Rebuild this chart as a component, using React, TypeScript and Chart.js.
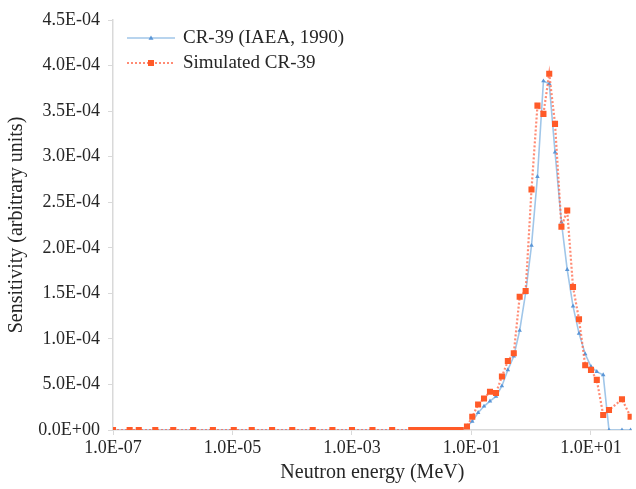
import React, { useEffect, useRef } from "react";
import { Chart, registerables } from "chart.js";

Chart.register(...registerables);

// Neutron energies (MeV)
const lowEnergies = [
  1e-7, 1.9e-7, 2.7e-7, 5.1e-7, 1.02e-6, 2.2e-6, 4.7e-6, 1.05e-5, 2.1e-5, 4.6e-5,
  1e-4, 2.2e-4, 4.7e-4, 1e-3, 2.2e-3, 4.7e-3,
  0.0098, 0.0118, 0.0143, 0.0173, 0.0209, 0.0253, 0.0306, 0.037, 0.045, 0.054, 0.066,
];
const lowValues = [
  0, 0, 0, 0, 0, 0, 0, 0, 0, 0,
  0, 0, 0, 0, 0, 0,
  0, 0, 0, 0, 0, 0, 0, 0, 0, 0, 0,
];
const highEnergies = [
  0.084, 0.103, 0.129, 0.162, 0.204, 0.257, 0.323, 0.406, 0.51, 0.64, 0.806,
  1.01, 1.27, 1.6, 2.0, 2.5, 3.2, 4.0, 5.0, 6.3, 8.0, 10, 12.5, 16, 20, 33, 46,
];
const iaeaValues = [
  3.6e-6, 9.5e-6, 1.9e-5, 2.6e-5, 3.16e-5, 3.68e-5, 4.83e-5, 6.6e-5, 8.1e-5, 1.092e-4, 1.504e-4,
  2.025e-4, 2.78e-4, 3.83e-4, 3.8e-4, 3.05e-4, 2.28e-4, 1.76e-4, 1.36e-4, 1.06e-4, 8.34e-5,
  6.95e-5, 6.4e-5, 6.04e-5, 0, 0, 0,
];
const simulatedValues = [
  3.8e-6, 1.46e-5, 2.8e-5, 3.46e-5, 4.2e-5, 4.06e-5, 5.87e-5, 7.57e-5, 8.42e-5, 1.463e-4, 1.526e-4,
  2.64e-4, 3.56e-4, 3.47e-4, 3.91e-4, 3.36e-4, 2.23e-4, 2.41e-4, 1.57e-4, 1.215e-4, 7.1e-5,
  6.6e-5, 5.5e-5, 1.65e-5, 2.2e-5, 3.37e-5, 1.46e-5,
];

const seriesLabels = ["CR-39 (IAEA, 1990)", "Simulated CR-39"];

const xTickValues = [1e-7, 1e-5, 1e-3, 1e-1, 1e1];
const xTickLabels = ["1.0E-07", "1.0E-05", "1.0E-03", "1.0E-01", "1.0E+01"];
const yTickValues = [0, 5e-5, 1e-4, 1.5e-4, 2e-4, 2.5e-4, 3e-4, 3.5e-4, 4e-4, 4.5e-4];
const yTickLabels = [
  "0.0E+00", "5.0E-04", "1.0E-04", "1.5E-04", "2.0E-04",
  "2.5E-04", "3.0E-04", "3.5E-04", "4.0E-04", "4.5E-04",
];

const FONT = '"Liberation Serif", "Times New Roman", serif';
const TEXT = "#262626";
const AXIS = "#d9d9d9";
const BLUE_LINE = "rgb(160,198,233)";
const BLUE_PT = "rgb(90,150,215)";
const RED_LINE = "rgba(255,100,70,0.75)";
const RED_PT = "rgb(255,90,40)";

function toPoints(xs: number[], ys: number[]) {
  return xs.map((x, i) => ({ x, y: ys[i] }));
}

const legendPlugin = {
  id: "customLegend",
  afterDraw(chart: any) {
    const ctx = chart.ctx;
    const styles = [
      { line: BLUE_LINE, pt: BLUE_PT, dash: [] as number[], width: 1.6, shape: "tri" },
      { line: RED_LINE, pt: RED_PT, dash: [2, 2], width: 2.2, shape: "rect" },
    ];
    seriesLabels.forEach((label, i) => {
      const y = 38 + i * 25;
      const s = styles[i];
      ctx.save();
      ctx.strokeStyle = s.line;
      ctx.lineWidth = s.width;
      ctx.setLineDash(s.dash);
      ctx.beginPath();
      ctx.moveTo(127, y);
      ctx.lineTo(175, y);
      ctx.stroke();
      ctx.setLineDash([]);
      ctx.fillStyle = s.pt;
      if (s.shape === "tri") {
        ctx.beginPath();
        ctx.moveTo(151, y - 2.5);
        ctx.lineTo(153.5, y + 1.8);
        ctx.lineTo(148.5, y + 1.8);
        ctx.closePath();
        ctx.fill();
      } else {
        ctx.fillRect(148, y - 3, 6, 6);
      }
      ctx.fillStyle = TEXT;
      ctx.font = `19px ${FONT}`;
      ctx.textBaseline = "middle";
      ctx.textAlign = "left";
      ctx.fillText(label, 183, y);
      ctx.restore();
    });
  },
};

export default function App() {
  const ref = useRef<HTMLCanvasElement | null>(null);
  useEffect(() => {
    document.body.style.margin = "0";
    const canvas = ref.current!;
    const chart = new Chart(canvas, {
      type: "line",
      data: {
        datasets: [
          {
            label: seriesLabels[0],
            data: toPoints(lowEnergies.concat(highEnergies), lowValues.concat(iaeaValues)),
            borderColor: BLUE_LINE,
            backgroundColor: BLUE_PT,
            borderWidth: 1.6,
            pointStyle: "triangle",
            pointRadius: 2.6,
            pointBorderWidth: 0,
            pointBackgroundColor: BLUE_PT,
            order: 1,
            tension: 0,
          },
          {
            label: seriesLabels[1],
            data: toPoints(lowEnergies.concat(highEnergies), lowValues.concat(simulatedValues)),
            borderColor: RED_LINE,
            backgroundColor: RED_PT,
            borderWidth: 2.2,
            borderDash: [2, 2],
            pointStyle: "rect",
            pointRadius: 4.3,
            pointBorderWidth: 0,
            pointBackgroundColor: RED_PT,
            order: 0,
            tension: 0,
          },
        ],
      },
      options: {
        animation: false,
        responsive: false,
        layout: { padding: { top: 20, right: 0, left: 0, bottom: 0 } },
        plugins: { legend: { display: false }, tooltip: { enabled: false } },
        scales: {
          x: {
            type: "logarithmic",
            min: 1e-7,
            max: 48,
            afterBuildTicks: (s: any) => {
              s.ticks = xTickValues.map((v) => ({ value: v }));
            },
            afterFit: (s: any) => {
              s.height = 59;
            },
            grid: { drawOnChartArea: false, drawTicks: true, tickLength: 5, color: AXIS },
            border: { color: AXIS, width: 1.5 },
            ticks: {
              autoSkip: false,
              maxRotation: 0,
              padding: 2,
              color: TEXT,
              font: { family: FONT, size: 18 },
              callback: (v: any) => {
                const idx = xTickValues.findIndex((t) => Math.abs(Math.log10(t) - Math.log10(Number(v))) < 1e-6);
                return idx >= 0 ? xTickLabels[idx] : "";
              },
            },
            title: {
              display: true,
              text: "Neutron energy (MeV)",
              color: TEXT,
              font: { family: FONT, size: 20 },
              padding: { top: 4, bottom: 4 },
            },
          },
          y: {
            min: 0,
            max: 4.5e-4,
            afterBuildTicks: (s: any) => {
              s.ticks = yTickValues.map((v) => ({ value: v }));
            },
            afterFit: (s: any) => {
              s.width = 113;
            },
            grid: { drawOnChartArea: false, drawTicks: true, tickLength: 5, color: AXIS },
            border: { color: AXIS, width: 1.5 },
            ticks: {
              padding: 8,
              color: TEXT,
              font: { family: FONT, size: 18 },
              callback: (v: any) => {
                const idx = yTickValues.findIndex((t) => Math.abs(t - Number(v)) < 1e-9);
                return idx >= 0 ? yTickLabels[idx] : "";
              },
            },
            title: {
              display: true,
              text: "Sensitivity (arbitrary units)",
              color: TEXT,
              font: { family: FONT, size: 20 },
              padding: { top: 5, bottom: 4 },
            },
          },
        },
      },
      plugins: [legendPlugin],
    });
    return () => chart.destroy();
  }, []);
  return (
    <div style={{ width: 636, height: 489 }}>
      <canvas ref={ref} width={636} height={489} />
    </div>
  );
}
